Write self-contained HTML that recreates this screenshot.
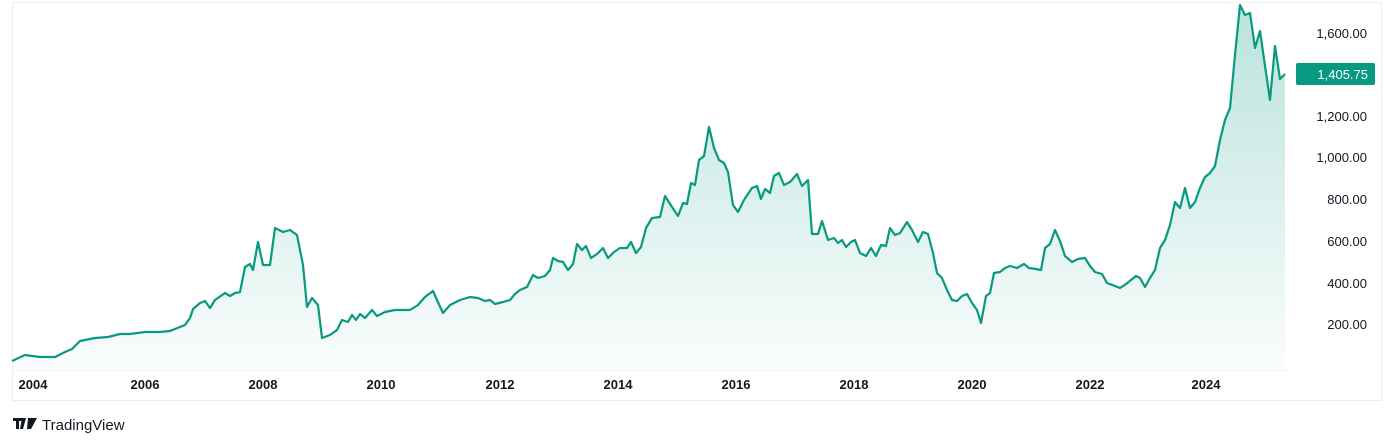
<!DOCTYPE html>
<html><head><style>
body{margin:0;background:#fff;font-family:"Liberation Sans",sans-serif;}
</style></head><body>
<svg width="1394" height="446" xmlns="http://www.w3.org/2000/svg" style="display:block">
<defs><linearGradient id="g" x1="0" y1="0" x2="0" y2="1">
<stop offset="0" stop-color="#089981" stop-opacity="0.28"/>
<stop offset="1" stop-color="#089981" stop-opacity="0.02"/></linearGradient></defs>
<rect x="12.5" y="2.5" width="1369" height="398" fill="none" stroke="#eeeeee"/>
<line x1="12" y1="370.5" x2="1290" y2="370.5" stroke="#f4f4f4"/>
<polygon fill="url(#g)" points="12,370 12,361 25,355 40,357 55,357 65,352 72,349 80,341 95,338 108,337 120,334 130,334 145,332 160,332 170,331 180,327 185,325 190,318 193,309 200,303 205,301 210,308 215,300 225,293 230,296 235,293 240,292 245,267 250,264 253,270 258,242 263,265 270,265 275,228 283,232 290,230 297,235 303,265 307,307 312,298 318,305 322,338 330,335 337,330 342,320 348,322 352,315 356,320 360,314 365,318 372,310 377,316 385,312 395,310 410,310 418,305 425,297 433,291 437,300 443,313 450,305 460,300 470,297 478,298 485,301 490,300 495,304 503,302 510,300 515,294 520,290 527,287 533,275 538,278 545,276 550,270 553,258 558,261 563,262 568,270 573,264 577,244 582,250 586,246 591,258 597,254 603,248 608,258 614,252 620,248 627,248 631,242 636,253 641,247 646,228 652,218 660,217 665,196 672,207 678,216 683,203 687,204 691,183 695,185 699,160 704,156 709,127 714,148 719,160 724,163 728,172 733,205 738,212 744,200 748,194 752,188 757,186 761,199 765,189 770,193 774,176 779,173 784,185 790,182 797,174 802,186 808,180 812,234 818,234 822,221 828,240 834,238 838,243 842,240 846,247 851,242 855,240 860,253 866,256 871,248 876,256 881,245 886,246 890,228 895,235 900,233 907,222 912,230 918,242 923,232 928,234 933,253 937,273 942,278 947,290 952,300 957,301 962,296 967,294 972,303 977,310 981,323 986,296 990,293 994,273 1000,272 1005,268 1010,266 1017,268 1024,264 1029,268 1036,269 1041,270 1045,248 1050,244 1055,230 1060,241 1065,256 1072,262 1078,259 1085,258 1090,266 1095,272 1102,274 1107,283 1115,286 1120,288 1126,284 1131,280 1136,276 1140,278 1145,287 1150,278 1155,270 1160,248 1165,240 1170,225 1175,202 1180,208 1185,188 1190,208 1195,202 1200,188 1205,177 1210,173 1215,166 1220,140 1225,120 1230,108 1235,55 1240,5 1245,15 1250,13 1255,48 1260,31 1265,66 1270,100 1275,46 1280,79 1285,74 1285,370"/>
<polyline fill="none" stroke="#089981" stroke-width="2.2" stroke-linejoin="round" points="12,361 25,355 40,357 55,357 65,352 72,349 80,341 95,338 108,337 120,334 130,334 145,332 160,332 170,331 180,327 185,325 190,318 193,309 200,303 205,301 210,308 215,300 225,293 230,296 235,293 240,292 245,267 250,264 253,270 258,242 263,265 270,265 275,228 283,232 290,230 297,235 303,265 307,307 312,298 318,305 322,338 330,335 337,330 342,320 348,322 352,315 356,320 360,314 365,318 372,310 377,316 385,312 395,310 410,310 418,305 425,297 433,291 437,300 443,313 450,305 460,300 470,297 478,298 485,301 490,300 495,304 503,302 510,300 515,294 520,290 527,287 533,275 538,278 545,276 550,270 553,258 558,261 563,262 568,270 573,264 577,244 582,250 586,246 591,258 597,254 603,248 608,258 614,252 620,248 627,248 631,242 636,253 641,247 646,228 652,218 660,217 665,196 672,207 678,216 683,203 687,204 691,183 695,185 699,160 704,156 709,127 714,148 719,160 724,163 728,172 733,205 738,212 744,200 748,194 752,188 757,186 761,199 765,189 770,193 774,176 779,173 784,185 790,182 797,174 802,186 808,180 812,234 818,234 822,221 828,240 834,238 838,243 842,240 846,247 851,242 855,240 860,253 866,256 871,248 876,256 881,245 886,246 890,228 895,235 900,233 907,222 912,230 918,242 923,232 928,234 933,253 937,273 942,278 947,290 952,300 957,301 962,296 967,294 972,303 977,310 981,323 986,296 990,293 994,273 1000,272 1005,268 1010,266 1017,268 1024,264 1029,268 1036,269 1041,270 1045,248 1050,244 1055,230 1060,241 1065,256 1072,262 1078,259 1085,258 1090,266 1095,272 1102,274 1107,283 1115,286 1120,288 1126,284 1131,280 1136,276 1140,278 1145,287 1150,278 1155,270 1160,248 1165,240 1170,225 1175,202 1180,208 1185,188 1190,208 1195,202 1200,188 1205,177 1210,173 1215,166 1220,140 1225,120 1230,108 1235,55 1240,5 1245,15 1250,13 1255,48 1260,31 1265,66 1270,100 1275,46 1280,79 1285,74"/>
<g font-size="13" fill="#131722" text-anchor="end">
<text x="1367" y="38">1,600.00</text>
<text x="1367" y="121">1,200.00</text>
<text x="1367" y="162">1,000.00</text>
<text x="1367" y="204">800.00</text>
<text x="1367" y="246">600.00</text>
<text x="1367" y="288">400.00</text>
<text x="1367" y="329">200.00</text>
</g>
<rect x="1296" y="63" width="79" height="22" rx="2" fill="#089981"/>
<text x="1368" y="79" font-size="13" fill="#fff" text-anchor="end">1,405.75</text>
<g font-size="13" font-weight="bold" fill="#131722" text-anchor="middle">
<text x="33" y="389">2004</text><text x="145" y="389">2006</text><text x="263" y="389">2008</text>
<text x="381" y="389">2010</text><text x="500" y="389">2012</text><text x="618" y="389">2014</text>
<text x="736" y="389">2016</text><text x="854" y="389">2018</text><text x="972" y="389">2020</text>
<text x="1090" y="389">2022</text><text x="1206" y="389">2024</text>
</g>
<g fill="#131722"><path d="M13 418h9v3h-3v8h-3v-8h-3z M22 418h4l-3 11h-3z M28 418h9l-6 11h-4z"/></g>
<text x="42" y="430" font-size="15" fill="#131722">TradingView</text>
</svg>
</body></html>
